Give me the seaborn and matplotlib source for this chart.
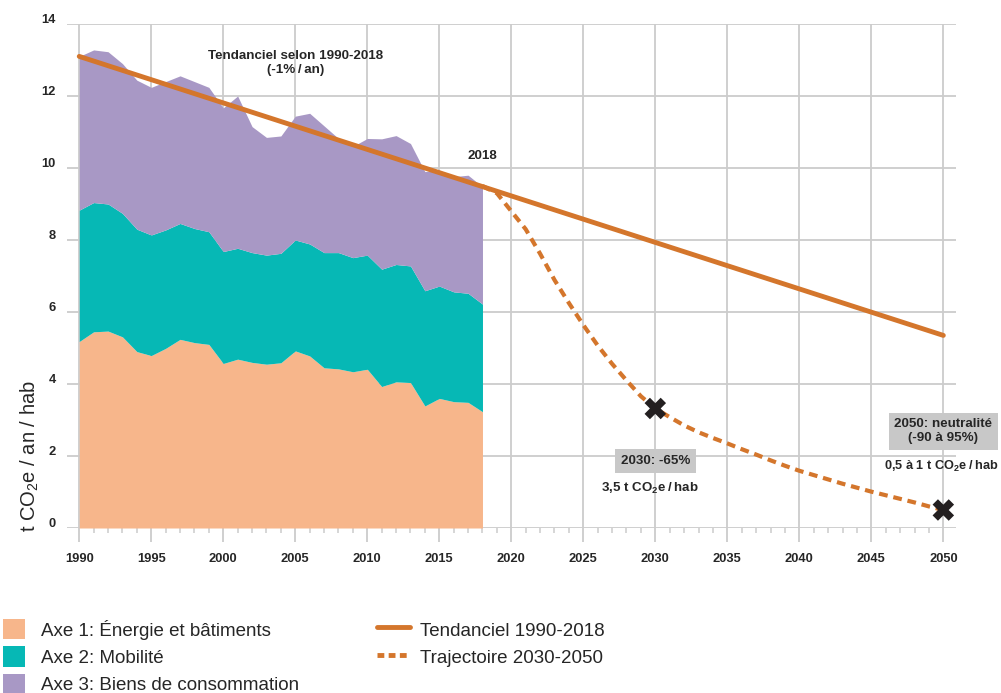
import numpy as np
import pandas as pd
import matplotlib
matplotlib.use('Agg')
import matplotlib.pyplot as plt
import matplotlib.transforms as mtransforms
from matplotlib.patches import Patch
from matplotlib.lines import Line2D
import seaborn as sns

# historical emissions per sector, t CO2e / an / hab (stacked)
years = list(range(1990, 2019))
axe1 = [5.18, 5.45, 5.47, 5.31, 4.90, 4.79, 4.99, 5.24, 5.15, 5.10,
        4.57, 4.69, 4.60, 4.55, 4.59, 4.92, 4.78, 4.45, 4.42, 4.34,
        4.41, 3.93, 4.06, 4.04, 3.39, 3.60, 3.51, 3.49, 3.23]
axe12 = [8.83, 9.04, 9.00, 8.74, 8.30, 8.14, 8.28, 8.46, 8.32, 8.23,
         7.68, 7.77, 7.65, 7.58, 7.63, 8.00, 7.89, 7.65, 7.65, 7.51,
         7.58, 7.19, 7.32, 7.28, 6.59, 6.72, 6.56, 6.52, 6.22]
total = [13.10, 13.28, 13.23, 12.90, 12.44, 12.24, 12.40, 12.56, 12.40, 12.24,
         11.67, 12.00, 11.15, 10.85, 10.89, 11.44, 11.52, 11.17, 10.82, 10.60,
         10.82, 10.81, 10.90, 10.68, 9.90, 9.94, 9.76, 9.80, 9.48]

# trend line 1990-2050
trend_years = [1990, 2050]
trend_vals = [13.1, 5.35]

# target trajectory 2018-2050
traj_years = list(range(2018, 2051))
traj_vals = [9.50, 9.30, 8.80, 8.30, 7.62, 6.89, 6.25, 5.64, 5.07, 4.56,
             4.10, 3.66, 3.32, 3.08, 2.85, 2.66, 2.50, 2.35, 2.19, 2.04,
             1.88, 1.73, 1.59, 1.47, 1.35, 1.23, 1.12, 1.01, 0.91, 0.81,
             0.71, 0.60, 0.50]

target_years = [2030, 2050]
target_vals = [3.32, 0.50]

c_axe1 = '#F7B68B'
c_axe2 = '#06B8B5'
c_axe3 = '#A898C5'
c_line = '#D4762C'
c_grid = '#CCCCCC'
c_box = '#C8C8C8'

sns.set_theme(style='white')
plt.rcParams['font.family'] = ['Liberation Sans', 'DejaVu Sans']
plt.rcParams['mathtext.fontset'] = 'custom'
plt.rcParams['mathtext.rm'] = 'Liberation Sans'
plt.rcParams['mathtext.bf'] = 'Liberation Sans:bold'
plt.rcParams['mathtext.default'] = 'regular'

fig = plt.figure(figsize=(10.01, 6.93), dpi=100)
ax = fig.add_axes([67 / 1001, 1 - 528 / 693, (956 - 67) / 1001, (528 - 24) / 693])

df = pd.DataFrame({'year': years, 'axe1': axe1, 'axe12': axe12, 'total': total})
ax.fill_between(df['year'], 0, df['axe1'], color=c_axe1, lw=0, zorder=2)
ax.fill_between(df['year'], df['axe1'], df['axe12'], color=c_axe2, lw=0, zorder=2)
ax.fill_between(df['year'], df['axe12'], df['total'], color=c_axe3, lw=0, zorder=2)

traj = pd.DataFrame({'year': traj_years, 'val': traj_vals})
sns.lineplot(data=traj, x='year', y='val', ax=ax, color=c_line, lw=3.0,
             linestyle=(0, (2.1, 1.4)), zorder=3)
trend = pd.DataFrame({'year': trend_years, 'val': trend_vals})
sns.lineplot(data=trend, x='year', y='val', ax=ax, color=c_line, lw=3.5,
             solid_capstyle='round', zorder=4)
tgt = pd.DataFrame({'year': target_years, 'val': target_vals})
sns.scatterplot(data=tgt, x='year', y='val', ax=ax, marker='X', s=240,
                color='#231F20', edgecolor='none', zorder=5)

ax.set_xlim(1989.15, 2050.88)
ax.set_ylim(0, 14)
ax.set_xticks(range(1990, 2051, 5))
ax.set_xticks(range(1990, 2051), minor=True)
ax.set_yticks(range(0, 15, 2))
ax.grid(True, which='major', color=c_grid, lw=1.3, zorder=0)
ax.set_axisbelow(True)
for s in ax.spines.values():
    s.set_visible(False)
ax.tick_params(axis='x', which='major', length=10, width=1.3, color=c_grid,
               pad=8, labelsize=9.3, bottom=True)
ax.tick_params(axis='x', which='minor', length=3.5, width=1.1, color=c_grid, bottom=True)
ax.tick_params(axis='y', length=0, pad=8, labelsize=9.3)
for lbl in ax.get_xticklabels() + ax.get_yticklabels():
    lbl.set_fontweight('bold')
shift = mtransforms.ScaledTranslation(0, 4 / 72, fig.dpi_scale_trans)
for lbl in ax.get_yticklabels():
    lbl.set_transform(lbl.get_transform() + shift)
ax.set_xlabel('')
ax.set_ylabel('')

fig.text(30 / 1001, 1 - 532 / 693, 't CO$_2$e / an / hab', rotation=90,
         ha='center', va='bottom', fontsize=14.5)

# annotations
ax.text(2005.0, 12.92, 'Tendanciel selon 1990-2018\n(-1%\u2009/\u2009an)', ha='center',
        va='center', fontsize=9.6, fontweight='bold', linespacing=1.25)
ax.text(2018.0, 10.33, '2018', ha='center', va='center', fontsize=9.6, fontweight='bold')
ax.text(2030.0, 1.86, '2030: -65%', ha='center', va='center', fontsize=9.6, fontweight='bold',
        bbox=dict(boxstyle='square,pad=0.45', fc=c_box, ec='none'))
ax.text(2029.6, 1.11, '3,5 t CO$_2$e\u2009/\u2009hab', ha='center', va='center',
        fontsize=9.6, fontweight='bold')
ax.text(2050.0, 2.69, '2050: neutralité\n(-90 à 95%)', ha='center', va='center', fontsize=9.6,
        fontweight='bold', linespacing=1.25, clip_on=False,
        bbox=dict(boxstyle='square,pad=0.4', fc=c_box, ec='none'))
ax.text(2049.85, 1.72, '0,5 à 1 t CO$_2$e\u2009/\u2009hab', ha='center', va='center',
        fontsize=9.2, fontweight='bold', clip_on=False)

# legends
fs = 13.5
h1 = [Patch(color=c_axe1, lw=0), Patch(color=c_axe2, lw=0), Patch(color=c_axe3, lw=0)]
l1 = ['Axe 1: Énergie et bâtiments', 'Axe 2: Mobilité', 'Axe 3: Biens de consommation']
leg1 = fig.legend(h1, l1, loc='upper left', bbox_to_anchor=(3 / 1001, 1 - 619 / 693),
                  frameon=False, fontsize=fs, handlelength=1.17, handleheight=1.3,
                  handletextpad=0.85, labelspacing=0.36, borderpad=0, borderaxespad=0)
h2 = [Line2D([], [], color=c_line, lw=3.5),
      Line2D([], [], color=c_line, lw=3.5, linestyle=(0, (1.4, 0.9)))]
l2 = ['Tendanciel 1990-2018', 'Trajectoire 2030-2050']
leg2 = fig.legend(h2, l2, loc='upper left', bbox_to_anchor=(377 / 1001, 1 - 619 / 693),
                  frameon=False, fontsize=fs, handlelength=1.76, handleheight=1.3,
                  handletextpad=0.55, labelspacing=0.36, borderpad=0, borderaxespad=0)

fig.savefig('out.png', dpi=100)
